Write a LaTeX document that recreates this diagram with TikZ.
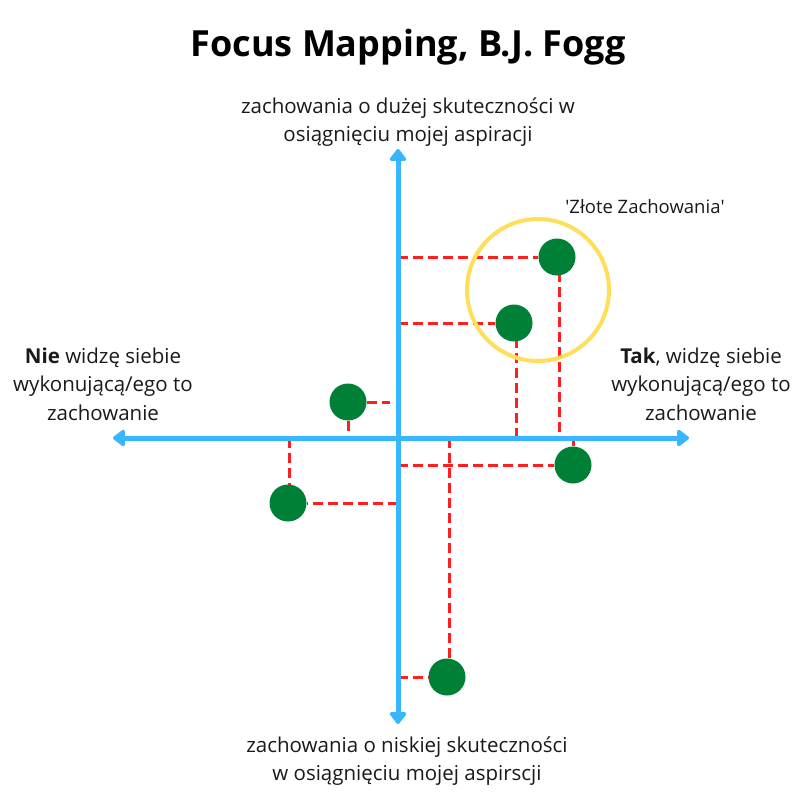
\documentclass[tikz,border=0pt]{standalone}
\usepackage{fontspec}
\setmainfont{Open Sans}
\usetikzlibrary{arrows.meta,backgrounds}
\definecolor{axisblue}{HTML}{38B6FF}
\definecolor{dotgreen}{HTML}{008037}
\definecolor{guidered}{HTML}{FF1F1F}
\definecolor{goldring}{HTML}{FFDE59}
\definecolor{inktext}{HTML}{1A1A1A}
\tikzset{
  axisline/.style={draw=axisblue, line width=5pt, -{Triangle[width=19pt,length=13pt,round]}},
  guide/.style={draw=guidered, line width=3pt, dash pattern=on 10pt off 5pt},
  dot/.style={circle, fill=dotgreen, minimum size=37pt, inner sep=0pt},
  label/.style={font=\fontsize{20.5}{28.5}\selectfont, text=inktext, align=center, inner sep=0pt},
  heading/.style={font=\fontsize{36}{40}\selectfont\bfseries, text=black, inner sep=0pt}
}
\begin{document}
\begin{tikzpicture}[x=1pt, y=-1pt]
\useasboundingbox (0,0) rectangle (800,800);

% origin of the two axes
\coordinate (O) at (398,438);

% behaviours plotted on the map
\node[dot] (c1) at (557,257) {};
\node[dot] (c2) at (514,323) {};
\node[dot] (c3) at (348,402) {};
\node[dot] (c4) at (573,465) {};
\node[dot] (c5) at (288,503) {};
\node[dot] (c6) at (447,677) {};

% end of the short guide next to the left dot
\coordinate (c3end) at (390,402);

\begin{scope}[on background layer]
  \fill[white] (0,0) rectangle (800,800);

  % guides from each dot to the axes
  \draw[guide] (c1 -| O) -- (c1);
  \draw[guide] ([xshift=2pt]c1.center) -- ([xshift=2pt]c1 |- O);
  \draw[guide] (c2 -| O) -- (c2);
  \draw[guide] ([xshift=2pt]c2.center) -- ([xshift=2pt]c2 |- O);
  \draw[guide] (c3) -- (c3end);
  \draw[guide] (c3) -- (c3 |- O);
  \draw[guide] (c4 -| O) -- (c4);
  \draw[guide] (c4 |- O) -- (c4);
  \draw[guide] (c5 -| O) -- (c5);
  \draw[guide] ([xshift=1pt]c5 |- O) -- ([xshift=1pt]c5.center);
  \draw[guide] (c6 -| O) -- (c6);
  \draw[guide] ([xshift=2pt]c6 |- O) -- ([xshift=2pt]c6.center);

  % axes
  \coordinate (top) at (398,149);
  \coordinate (bottom) at (398,724);
  \coordinate (left) at (113,438);
  \coordinate (right) at (689,438);
  \draw[axisline] (O) -- (top);
  \draw[axisline] (O) -- (bottom);
  \draw[axisline] (O) -- (left);
  \draw[axisline] (O) -- (right);
\end{scope}

% the 'golden behaviours' ring
\draw[goldring, line width=4pt] (538,290) circle[radius=71];

% texts
\node[heading] (title) at (408,47) {Focus Mapping, B.J. Fogg};
\node[label] (high) at (408,122) {zachowania o dużej skuteczności w\\osiągnięciu mojej aspiracji};
\node[label] (low) at (407,761) {zachowania o niskiej skuteczności\\w osiągnięciu mojej aspirscji};
\node[label, font=\fontsize{18.5}{26}\selectfont] (gold) at (645,207) {\textquotesingle Złote Zachowania\textquotesingle};
\node[label] (no) at (103,384) {\textbf{Nie} widzę siebie\\wykonującą/ego to\\zachowanie};
\node[label] (yes) at (701,384) {\textbf{Tak}, widzę siebie\\wykonującą/ego to\\zachowanie};
\end{tikzpicture}
\end{document}
